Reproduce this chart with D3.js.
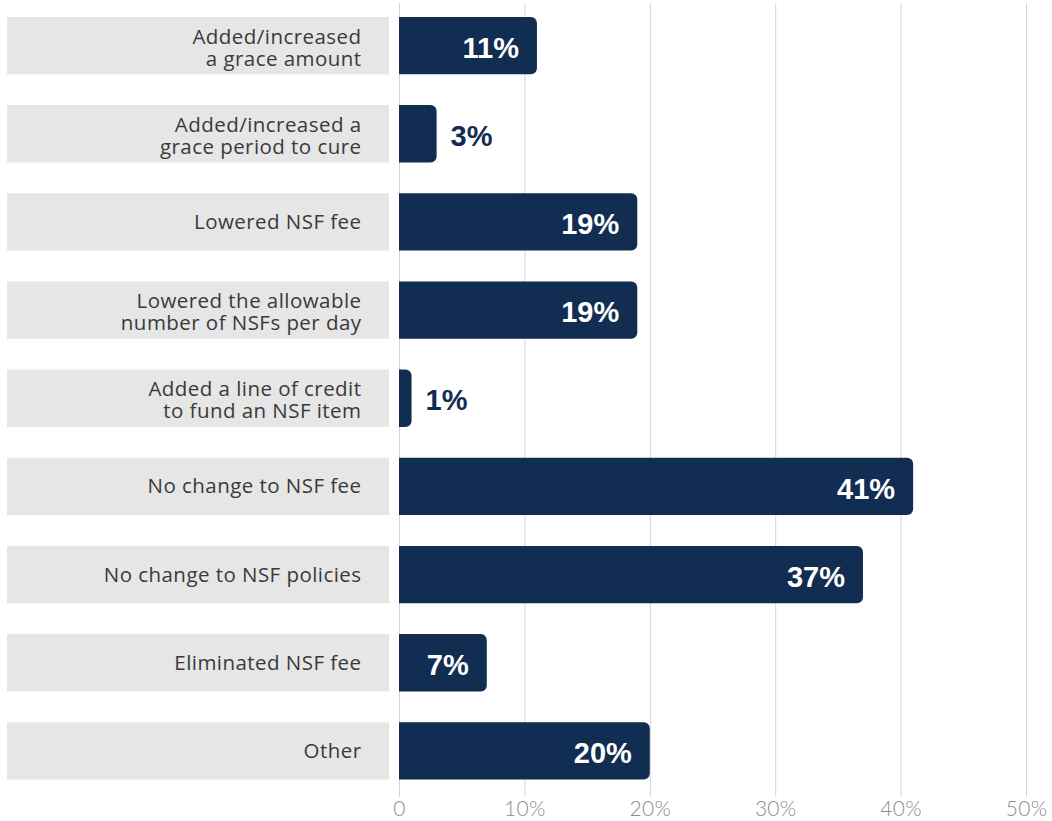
<!DOCTYPE html>
<html>
<head>
<meta charset="utf-8">
<script src="https://cdn.jsdelivr.net/npm/d3@7"></script>
<style>
  html, body { margin: 0; padding: 0; background: #fff; }
  svg { display: block; }
</style>
</head>
<body>
<svg id="chart" width="1052" height="821"></svg>
<script>
// Responses: changes made to NSF fees / policies (share of respondents, %)
const categories = [
  ["Added/increased", "a grace amount"],
  ["Added/increased a", "grace period to cure"],
  ["Lowered NSF fee"],
  ["Lowered the allowable", "number of NSFs per day"],
  ["Added a line of credit", "to fund an NSF item"],
  ["No change to NSF fee"],
  ["No change to NSF policies"],
  ["Eliminated NSF fee"],
  ["Other"]
];
const values = [11, 3, 19, 19, 1, 41, 37, 7, 20];
const xTicks = [0, 10, 20, 30, 40, 50];
const xTickLabels = ["0", "10%", "20%", "30%", "40%", "50%"];

const svg = d3.select("#chart");

const x = d3.scaleLinear().domain([0, 50]).range([399, 1026]);
const y = d3.scaleBand()
  .domain(d3.range(values.length))
  .range([1.5, 795])
  .paddingInner(0.35)
  .paddingOuter(0.175);

const navy = "#122d52";

// vertical grid lines
svg.append("g")
  .selectAll("line")
  .data(xTicks)
  .join("line")
  .attr("x1", d => x(d) + 0.5)
  .attr("x2", d => x(d) + 0.5)
  .attr("y1", 3)
  .attr("y2", 797)
  .attr("stroke", "#d4d4d4")
  .attr("stroke-width", 1);

// x axis tick labels
const xAxis = d3.axisBottom(x)
  .tickValues(xTicks)
  .tickSize(0)
  .tickPadding(0)
  .tickFormat((d, i) => xTickLabels[i]);
const gx = svg.append("g").attr("transform", "translate(0,816)").call(xAxis);
gx.select(".domain").remove();
gx.selectAll("text")
  .attr("dy", null)
  .attr("y", 0)
  .attr("font-family", "Lato, 'Open Sans', sans-serif")
  .attr("font-weight", 300)
  .attr("font-size", 21)
  .attr("letter-spacing", "0.3px")
  .attr("fill", "#8c8c8c");

// grey label panels
svg.append("g")
  .selectAll("rect")
  .data(values)
  .join("rect")
  .attr("x", 7)
  .attr("width", 382)
  .attr("y", (d, i) => y(i))
  .attr("height", y.bandwidth())
  .attr("fill", "#e6e6e6");

// category labels, right-aligned in the panels
const lineH = 22;
svg.append("g")
  .selectAll("text")
  .data(categories)
  .join("text")
  .attr("text-anchor", "end")
  .attr("font-family", "'Open Sans', sans-serif")
  .attr("font-size", 20.5)
  .attr("letter-spacing", "0.45px")
  .attr("fill", "#3a3a3a")
  .each(function(lines, i) {
    const cy = y(i) + y.bandwidth() / 2;
    const n = lines.length;
    const first = cy + 7 - (n - 1) * lineH / 2 + (n > 1 ? 2 : 0);
    d3.select(this).selectAll("tspan")
      .data(lines)
      .join("tspan")
      .attr("x", 361.5)
      .attr("y", (l, j) => first + j * lineH)
      .text(l => l);
  });

// bars: square at the baseline, rounded at the value end
const r = 6;
function barPath(v, i) {
  const x0 = x(0), x1 = x(v), y0 = y(i), h = y.bandwidth();
  const rr = Math.min(r, (x1 - x0) / 2);
  return `M${x0},${y0}H${x1 - rr}A${rr},${rr} 0 0 1 ${x1},${y0 + rr}` +
         `V${y0 + h - rr}A${rr},${rr} 0 0 1 ${x1 - rr},${y0 + h}H${x0}Z`;
}
svg.append("g")
  .selectAll("path")
  .data(values)
  .join("path")
  .attr("d", (d, i) => barPath(d, i))
  .attr("fill", navy);

// value labels: inside for long bars, just outside for short ones
svg.append("g")
  .selectAll("text")
  .data(values)
  .join("text")
  .attr("font-family", "'Liberation Sans', Arial, sans-serif")
  .attr("font-weight", 700)
  .attr("font-size", 29)
  .attr("dy", "0.42em")
  .attr("y", (d, i) => y(i) + y.bandwidth() / 2)
  .attr("x", d => d >= 5 ? x(d) - 18 : x(d) + 14)
  .attr("text-anchor", d => d >= 5 ? "end" : "start")
  .attr("fill", d => d >= 5 ? "#ffffff" : navy)
  .text(d => d + "%");
</script>
</body>
</html>
